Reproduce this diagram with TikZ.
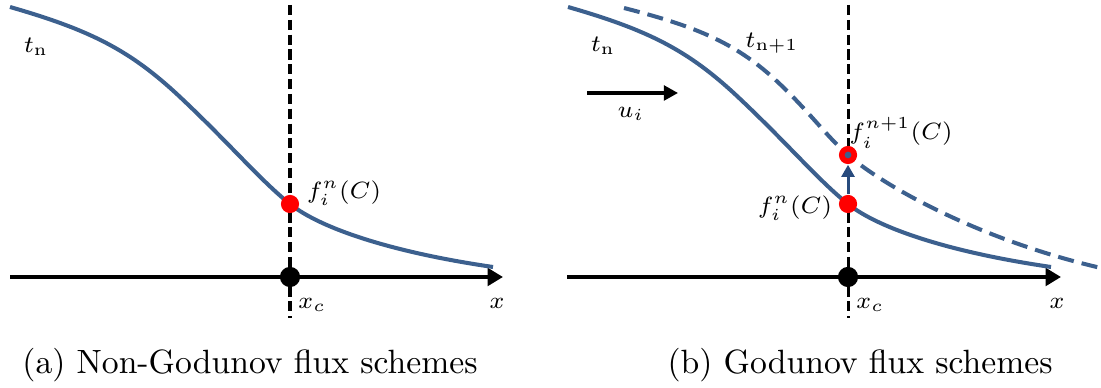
\documentclass[tikz,border=0pt]{standalone}
\usetikzlibrary{arrows.meta}
\definecolor{curveblue}{RGB}{60,96,142}
\definecolor{arrblue}{RGB}{40,75,125}
\begin{document}
\begin{tikzpicture}[x=0.297pt,y=-0.297pt,
  axisline/.style={line width=1.4pt,-{Triangle[length=4.6pt,width=5.2pt]}},
  vdash/.style={line width=0.9pt,dash pattern=on 3pt off 1.4pt},
  fcurve/.style={curveblue,line width=1.2pt},
  dcurve/.style={curveblue,line width=1.2pt,dash pattern=on 4.8pt off 2.4pt},
  bdot/.style={circle,fill=black,inner sep=0pt,minimum size=6pt},
  rdot/.style={circle,fill=red,inner sep=0pt,minimum size=5.4pt},
  cdot/.style={circle,fill=curveblue,inner sep=0pt,minimum size=2pt},
  barrow/.style={arrblue,line width=0.9pt,-{Triangle[length=3.6pt,width=3.8pt]}},
  uarrow/.style={line width=0.9pt,-{Triangle[length=4.2pt,width=4.4pt]}},
  lab/.style={font=\fontsize{7.2}{9}\selectfont,inner sep=0pt},
  captext/.style={font=\fontsize{10}{12}\selectfont,inner sep=0pt}]
\useasboundingbox (0,0) rectangle (1101,388);
% ---------- panel (a)
\coordinate (av0) at (290,5);
\coordinate (av1) at (290,318);
\draw[vdash] (av0) -- (av1);
\coordinate (a0) at (10,277);
\coordinate (a1) at (503,277);
\draw[axisline] (a0) -- (a1);
\draw[fcurve] (10,7) .. controls (90,30) and (130,50) .. (180,97)
  .. controls (230,144) and (260,180) .. (290,204)
  .. controls (320,228) and (390,252) .. (493,267);
\node[bdot] (aO) at (290,277) {};
\node[rdot] (aF) at (290,204) {};
\node[lab] (atn) at (36,47) {$t_{\mathrm{n}}$};
\node[lab] (afn) at (344,193) {$f_i^n(C)$};
\node[lab] (axc) at (312,305) {$x_c$};
\node[lab] (ax) at (497,303) {$x$};
\node[captext] (capa) at (250,365) {(a) Non-Godunov flux schemes};
% ---------- panel (b)
\coordinate (bv0) at (848,5);
\coordinate (bv1) at (848,318);
\draw[vdash] (bv0) -- (bv1);
\coordinate (b0) at (567,277);
\coordinate (b1) at (1061,277);
\draw[axisline] (b0) -- (b1);
\draw[fcurve] (568,7) .. controls (648,30) and (688,50) .. (738,97)
  .. controls (788,144) and (818,180) .. (848,204)
  .. controls (878,228) and (948,252) .. (1051,267);
\draw[dcurve] (624,8) .. controls (690,25) and (730,40) .. (770,75)
  .. controls (805,106) and (825,135) .. (848,155)
  .. controls (885,187) and (980,240) .. (1101,268);
\node[bdot] (bO) at (848,277) {};
\node[rdot] (bF0) at (848,204) {};
\node[rdot] (bF1) at (848,155) {};
\node[cdot] (bF1c) at (bF1) {};
\draw[barrow] (bF0) -- (bF1);
\coordinate (u0) at (587,93);
\coordinate (u1) at (678,93);
\draw[uarrow] (u0) -- (u1);
\node[lab] (btn) at (603,46) {$t_{\mathrm{n}}$};
\node[lab] (btn1) at (772,43) {$t_{\mathrm{n+1}}$};
\node[lab] (bui) at (631,114) {$u_i$};
\node[lab] (bfn1) at (901,133) {$f_i^{n+1}(C)$};
\node[lab] (bfn) at (795,208) {$f_i^n(C)$};
\node[lab] (bxc) at (870,305) {$x_c$};
\node[lab] (bx) at (1057,303) {$x$};
\node[captext] (capb) at (860,365) {(b) Godunov flux schemes};
\end{tikzpicture}
\end{document}
